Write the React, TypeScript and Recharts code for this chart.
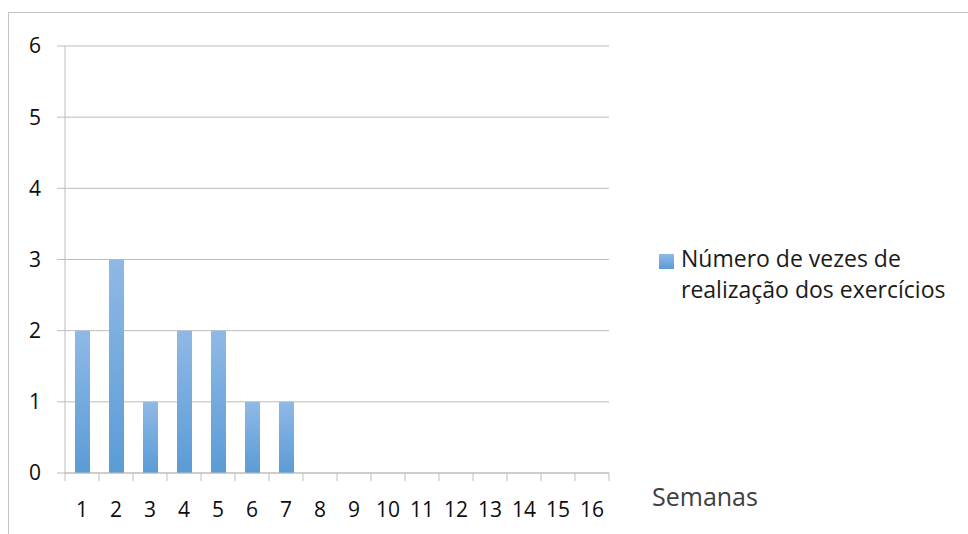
import { BarChart, Bar, XAxis, YAxis, CartesianGrid } from "recharts"

const semanas = ["1", "2", "3", "4", "5", "6", "7", "8", "9", "10", "11", "12", "13", "14", "15", "16"]
const vezes = [2, 3, 1, 2, 2, 1, 1, 0, 0, 0, 0, 0, 0, 0, 0, 0]
const yTicks = [0, 1, 2, 3, 4, 5, 6]
const serieNome = "Número de vezes de realização dos exercícios"
const eixoX = "Semanas"

const data = semanas.map((s, i) => ({ semana: s, vezes: vezes[i] }))

const FONT = "'Open Sans', sans-serif"
const GRID = "#bdbdbd"

// category tick: label in the middle, tick marks on the band edges (Excel style)
const SemanaTick = (props: any) => {
  const { x, y, payload, index, visibleTicksCount } = props
  const half = payload.offset || 0
  const axisY = y - 29
  const last = index === (visibleTicksCount ?? semanas.length) - 1
  return (
    <g>
      <line x1={x - half} x2={x - half} y1={axisY} y2={axisY + 8} stroke={GRID} />
      {last && <line x1={x + half} x2={x + half} y1={axisY} y2={axisY + 8} stroke={GRID} />}
      <text x={x} y={y} dy="0.71em" textAnchor="middle" fill="#0d0d0d" fontSize={21} fontFamily={FONT}>
        {payload.value}
      </text>
    </g>
  )
}

export default function App() {
  return (
    <div style={{ position: "absolute", left: 0, top: 0, width: 968, height: 534, background: "#fff", overflow: "hidden" }}>
      {/* outer frame, only top and left edges fall inside the picture */}
      <div
        style={{
          position: "absolute",
          left: 8,
          top: 12,
          width: 1000,
          height: 600,
          borderTop: "1px solid #c4c4c4",
          borderLeft: "1px solid #c4c4c4",
        }}
      />
      <div style={{ position: "absolute", left: 0, top: 0 }}>
        <BarChart
          width={968}
          height={534}
          data={data}
          margin={{ top: 46, right: 359, bottom: 21, left: 15 }}
        >
          <defs>
            <linearGradient id="barGrad" x1="0" y1="0" x2="0" y2="1">
              <stop offset="0%" stopColor="#8fb9e6" />
              <stop offset="100%" stopColor="#5a9cd6" />
            </linearGradient>
          </defs>
          <CartesianGrid vertical={false} stroke={GRID} strokeWidth={1} />
          <XAxis
            dataKey="semana"
            height={40}
            axisLine={{ stroke: GRID }}
            tickLine={false}
            tickSize={8}
            tickMargin={21}
            interval={0}
            tick={<SemanaTick />}
          />
          <YAxis
            domain={[0, 6]}
            ticks={yTicks}
            width={50}
            tickSize={8}
            tickMargin={16}
            stroke={GRID}
            axisLine={{ stroke: GRID }}
            tickLine={{ stroke: GRID }}
            tick={{ fill: "#0d0d0d", fontSize: 21, fontFamily: FONT }}
          />
          <Bar
            dataKey="vezes"
            name={serieNome}
            fill="url(#barGrad)"
            barSize={15}
            isAnimationActive={false}
          />
        </BarChart>
      </div>
      {/* legend */}
      <div style={{ position: "absolute", left: 659, top: 253, display: "flex", alignItems: "flex-start", fontFamily: FONT }}>
        <div
          style={{
            width: 15,
            height: 15,
            marginTop: 1,
            marginRight: 7,
            background: "linear-gradient(#8fb9e6, #5a9cd6)",
          }}
        />
        <div style={{ fontSize: 23, lineHeight: "31px", color: "#1a1a1a", width: 290, marginTop: -10 }}>
          {serieNome}
        </div>
      </div>
      <div
        style={{
          position: "absolute",
          left: 652,
          top: 479,
          fontFamily: FONT,
          fontSize: 25,
          color: "#404040",
          lineHeight: "34px",
        }}
      >
        {eixoX}
      </div>
    </div>
  )
}
